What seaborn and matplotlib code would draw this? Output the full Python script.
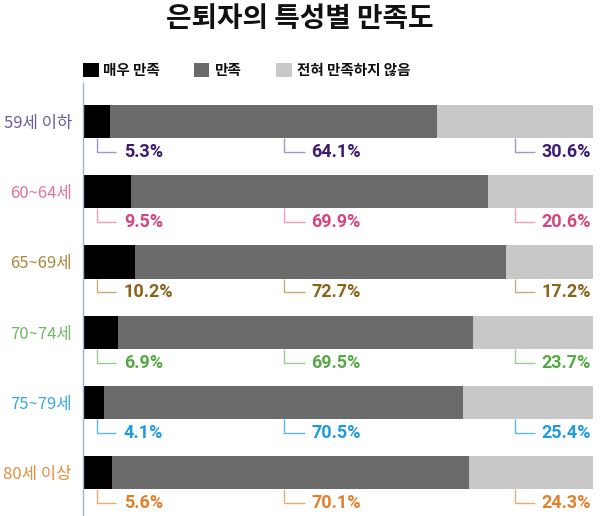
import matplotlib
matplotlib.use("Agg")
import matplotlib.pyplot as plt
from matplotlib.patches import Rectangle
import seaborn as sns
import pandas as pd
import numpy as np

# ---- data ----
groups = ["59세 이하", "60~64세", "65~69세", "70~74세", "75~79세", "80세 이상"]
very_satisfied = [5.3, 9.5, 10.2, 6.9, 4.1, 5.6]
satisfied = [64.1, 69.9, 72.7, 69.5, 70.5, 70.1]
not_satisfied = [30.6, 20.6, 17.2, 23.7, 25.4, 24.3]
legend_labels = ["매우 만족", "만족", "전혀 만족하지 않음"]
title = "은퇴자의 특성별 만족도"

# ---- style ----
seg_colors = ["#000000", "#6b6b6b", "#c8c8c8"]
text_colors = ["#3d1b72", "#d2467f", "#8a6219", "#56a847", "#1e9ae0", "#e1802b"]
label_colors = ["#6b5b9e", "#e0729c", "#a8873e", "#73b665", "#3aa8e6", "#e68c3d"]
line_colors = ["#a793cc", "#eea0be", "#c9ab74", "#9ccc8f", "#5ab8ea", "#ecaa70"]

sns.set_theme(style="white")
plt.rcParams["font.family"] = ["Noto Sans CJK KR", "DejaVu Sans"]

W, H = 600, 516
fig = plt.figure(figsize=(W / 100, H / 100), dpi=100)
fig.patch.set_facecolor("white")

ax_left, ax_right, ax_top = 83, 593, 83
ax = fig.add_axes([ax_left / W, 0, (ax_right - ax_left) / W, 1 - ax_top / H])

df = pd.DataFrame({
    "group": groups,
    "c1": very_satisfied,
    "c2": np.add(very_satisfied, satisfied),
    "c3": np.add(np.add(very_satisfied, satisfied), not_satisfied),
})

bar_w = 0.47
for col, c in zip(["c3", "c2", "c1"], seg_colors[::-1]):
    sns.barplot(data=df, x=col, y="group", orient="h", color=c, width=bar_w,
                saturation=1, ax=ax, edgecolor="none", linewidth=0)

ax.set_xlim(0, 100)
ax.set_ylim(5.613, -0.546)
ax.set_xlabel("")
ax.set_ylabel("")
ax.set_xticks([])
ax.set_yticks(range(len(groups)))
ax.set_yticklabels(groups, fontsize=12)
for tl, c in zip(ax.get_yticklabels(), label_colors):
    tl.set_color(c)
ax.tick_params(axis="y", length=0, pad=8)
for s in ["top", "right", "bottom"]:
    ax.spines[s].set_visible(False)
ax.spines["left"].set_color("#a4afd8")
ax.spines["left"].set_linewidth(1.0)

# value labels with connectors
vx = [2.65, 39.4, 84.7]
hx = [6.5, 43.5, 88.6]
tx = [8.0, 44.8, 89.9]
dy_line = 0.43
for i in range(len(groups)):
    vals = [very_satisfied[i], satisfied[i], not_satisfied[i]]
    for j in range(3):
        y0 = i + bar_w / 2
        y1 = i + dy_line
        ax.plot([vx[j], vx[j], hx[j]], [y0, y1, y1], color=line_colors[i], lw=1.0,
                solid_capstyle="butt", clip_on=False)
        ax.text(tx[j], y1, f"{vals[j]:.1f}%", color=text_colors[i], fontsize=13,
                fontweight="bold", family=["Roboto", "DejaVu Sans"], va="center",
                ha="left", clip_on=False)

# title
fig.text(0.5, 1 - 19 / H, title, ha="center", va="center", fontsize=20,
         fontweight="heavy", color="#111111")

# legend
leg_sq = [(83, 99), (194, 209), (276, 292)]
leg_tx = [103, 214, 297]
for (x0, x1), t, c, lab in zip(leg_sq, leg_tx, seg_colors, legend_labels):
    fig.patches.append(Rectangle((x0 / W, 1 - 77 / H), (x1 - x0) / W, 14 / H,
                                 transform=fig.transFigure, facecolor=c,
                                 edgecolor="none"))
    fig.text(t / W, 1 - 70 / H, lab, ha="left", va="center", fontsize=10.5,
             fontweight="heavy", color="#111111")

fig.savefig("out.png", dpi=100, facecolor="white")
